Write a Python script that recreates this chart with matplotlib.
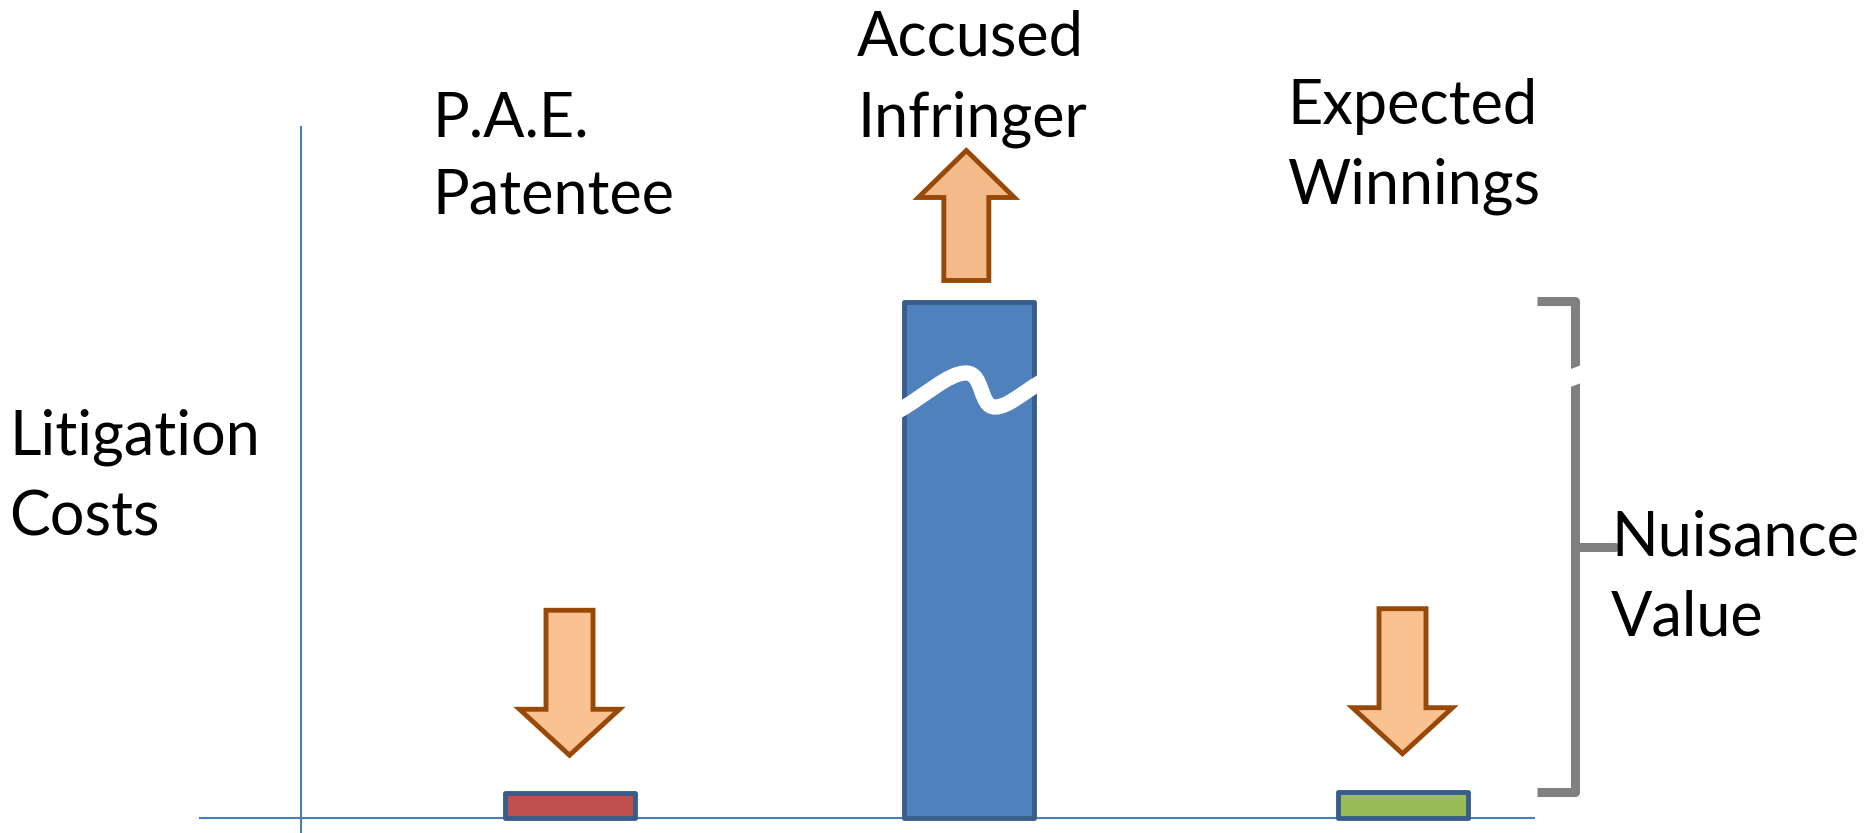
import matplotlib.pyplot as plt
from matplotlib.patches import Polygon, PathPatch
from matplotlib.path import Path

# ---- data ----
categories = [["P.A.E.", "Patentee"], ["Accused", "Infringer"], ["Expected", "Winnings"]]
costs = [4.8, 100.0, 5.1]          # litigation cost (blue bar is shown broken)
bar_colors = ["#C0504D", "#4F81BD", "#9BBB59"]
arrow_dir = [-1, 1, -1]            # -1 = goes down, 1 = goes up
ylabel_lines = ["Litigation", "Costs"]
bracket_lines = ["Nuisance", "Value"]

# ---- layout (pixels of the 1864x833 canvas) ----
slot_x = [0.0, 0.96, 2.0]
X0, SX = 569.5, 416.5     # px of slot 0, px per slot unit
Y0, SY = 818.0, 5.155     # px of zero cost, px per cost unit


def X(px):
    return (px - X0) / SX


def Y(py):
    return (Y0 - py) / SY


plt.rcParams['font.family'] = ['Lato', 'DejaVu Sans']
FS = 44

fig = plt.figure(figsize=(18.64, 8.33), dpi=100)
ax = fig.add_axes([0, 0, 1, 1])
ax.set_xlim(X(0), X(1864))
ax.set_ylim(Y(833), Y(0))
ax.axis('off')

# axes lines
axis_col = '#4A7EBB'
ax.plot([X(200), X(1534)], [0, 0], color=axis_col, lw=1.5, zorder=1)
ax.plot([X(301), X(301)], [Y(127), Y(833)], color=axis_col, lw=1.5, zorder=1)

# bars
ax.bar(slot_x, costs, width=130 / SX, color=bar_colors, edgecolor='#385D8A',
       linewidth=3.5, joinstyle='round', zorder=3)

# break mark on the tall bar
wave = [(898, 411), (925, 396), (948, 373), (966, 373),
        (984, 373), (979, 407), (995, 407),
        (1008, 407), (1022, 393), (1041, 382)]
codes = [Path.MOVETO] + [Path.CURVE4] * 9
ax.add_patch(PathPatch(Path([(X(a), Y(b)) for a, b in wave], codes), fill=False,
                       edgecolor='white', lw=11, capstyle='butt', zorder=4))


# block arrows
def block_arrow(cx, y_tail, y_tip, shaft_w, head_w, head_len, fc):
    s = 1 if y_tip < y_tail else -1   # direction in px (up = negative)
    hb = y_tip + s * head_len
    pts = [(cx - shaft_w / 2, y_tail), (cx - shaft_w / 2, hb), (cx - head_w / 2, hb),
           (cx, y_tip), (cx + head_w / 2, hb), (cx + shaft_w / 2, hb),
           (cx + shaft_w / 2, y_tail)]
    ax.add_patch(Polygon([(X(a), Y(b)) for a, b in pts], closed=True, facecolor=fc,
                         edgecolor='#984807', lw=3.5, joinstyle='miter', zorder=3))


for xs, h, d in zip(slot_x, costs, arrow_dir):
    cx = X0 + xs * SX
    top = Y0 - h * SY
    if d > 0:
        block_arrow(cx - 3, top - 22, top - 152, 45, 96, 47, '#F4BA8A')
    else:
        block_arrow(cx, top - 183, top - 38, 47, 100, 46, '#FAC191')

# labels
label_pos = [(432, [137, 214]), (857, [56, 137]), (1287, [124, 204])]
for lines, (lx, bls) in zip(categories, label_pos):
    for t, bl in zip(lines, bls):
        ax.text(X(lx), Y(bl), t, fontsize=FS, va='baseline', ha='left')

for t, bl in zip(ylabel_lines, [455, 535]):
    ax.text(X(9), Y(bl), t, fontsize=FS, va='baseline', ha='left')

for t, bl in zip(bracket_lines, [555, 636]):
    ax.text(X(1611), Y(bl), t, fontsize=FS, va='baseline', ha='left')

# bracket
br_col = '#808080'
ax.plot([X(1537), X(1575), X(1575), X(1537)], [Y(301), Y(301), Y(792), Y(792)],
        color=br_col, lw=6.5, solid_joinstyle='round', solid_capstyle='butt', zorder=2)
ax.plot([X(1575), X(1615)], [Y(547), Y(547)], color=br_col, lw=6.5,
        solid_capstyle='round', zorder=2)
ax.plot([X(1560), X(1592)], [Y(382), Y(370)], color='white', lw=12,
        solid_capstyle='butt', zorder=2.5)

fig.savefig('out.png', dpi=100)
